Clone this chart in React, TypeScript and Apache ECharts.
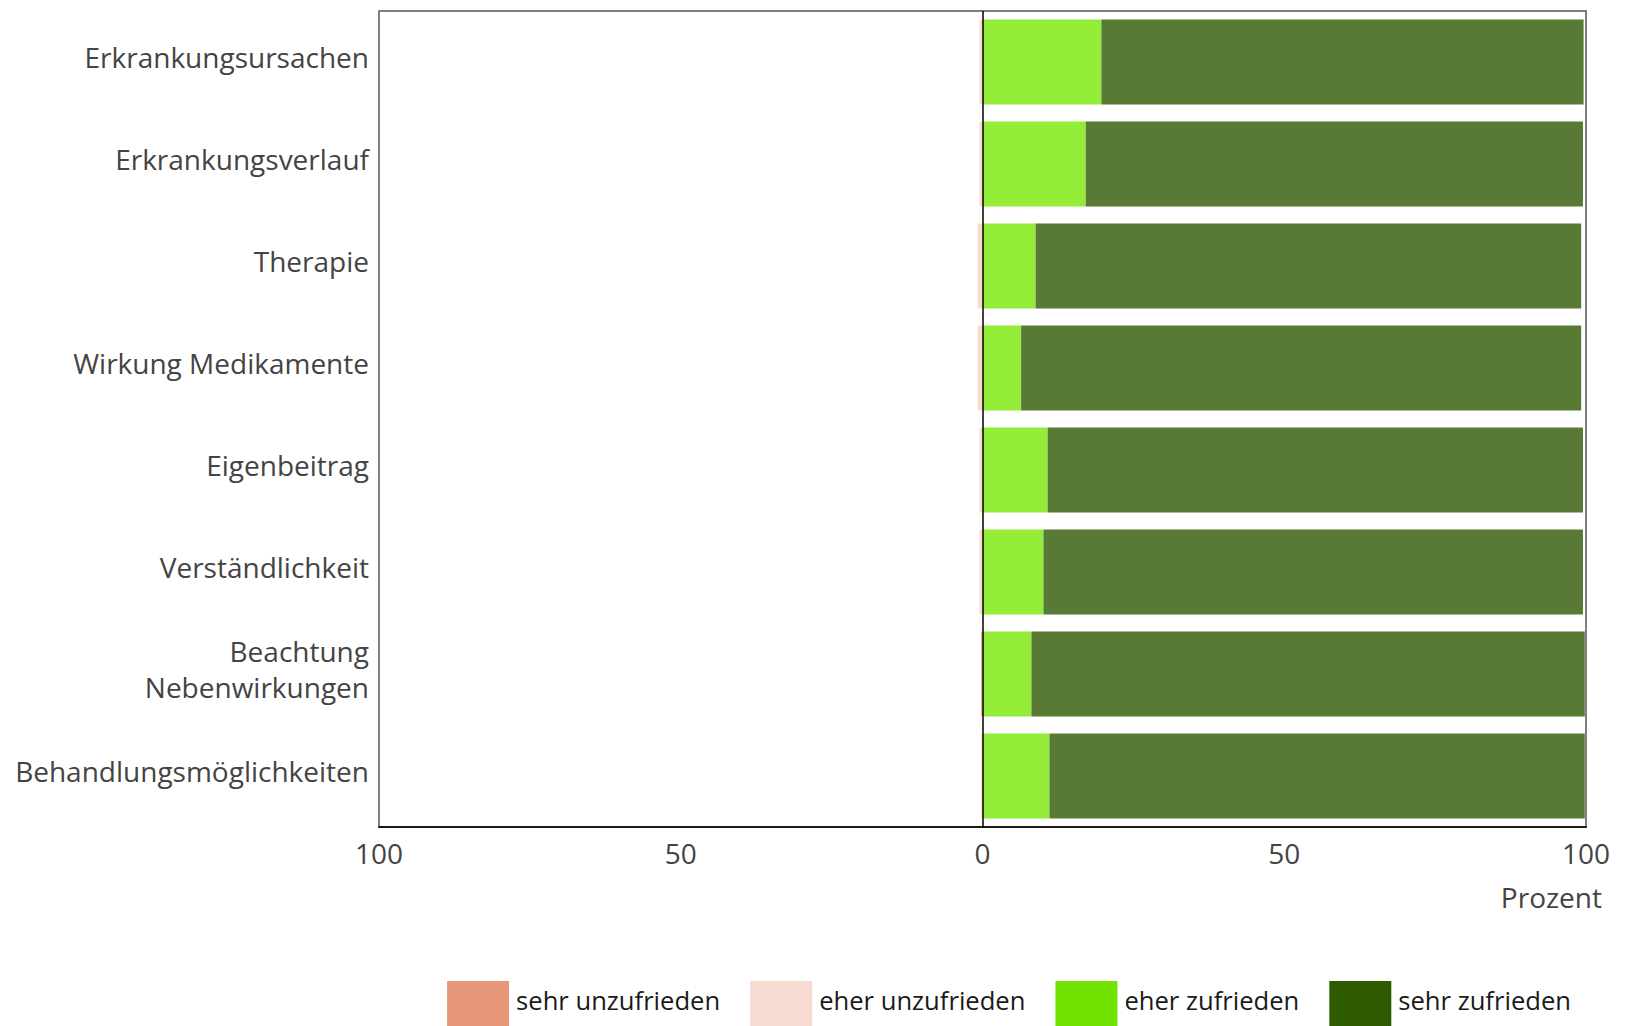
import React, { useEffect, useRef } from "react";
import * as echarts from "echarts";

const categories = [
  "Erkrankungsursachen",
  "Erkrankungsverlauf",
  "Therapie",
  "Wirkung Medikamente",
  "Eigenbeitrag",
  "Verständlichkeit",
  "Beachtung\nNebenwirkungen",
  "Behandlungsmöglichkeiten",
];

const seriesNames = ["sehr unzufrieden", "eher unzufrieden", "eher zufrieden", "sehr zufrieden"];

const sehrUnzufrieden = [0, 0, 0, 0, 0, 0, 0.2, 0];
const eherUnzufrieden = [0.5, 0.5, 0.8, 0.8, 0.5, 0.5, 0, 0.2];
const eherZufrieden = [19.7, 17.1, 8.8, 6.4, 10.8, 10.1, 8.1, 11.1];
const sehrZufrieden = [79.9, 82.4, 90.4, 92.8, 88.7, 89.4, 91.7, 88.7];

const xTicks = [-100, -50, 0, 50, 100];

const barColors = ["#E9957A", "#F7DBD1", "#92EC38", "#587A34"];
const legendColors = ["#E8967A", "#F7DAD0", "#70E300", "#2F5B00"];

export default function App() {
  const ref = useRef<HTMLDivElement>(null);

  useEffect(() => {
    document.body.style.margin = "0";
    if (!ref.current) return;
    const chart = echarts.init(ref.current, undefined, { renderer: "svg" });
    const font = "'Open Sans', 'Noto Sans', sans-serif";
    const mk = (name: string, data: number[], color: string, neg: boolean, extra: any = {}) => ({
      name,
      type: "bar",
      stack: "total",
      barWidth: 85,
      data: data.map((v) => (neg ? -v : v)),
      itemStyle: { color },
      emphasis: { disabled: true },
      ...extra,
    });
    chart.setOption({
      animation: false,
      textStyle: { fontFamily: font },
      grid: { left: 379, right: 39, top: 11, bottom: 199, show: true, borderColor: "#555", borderWidth: 1.5, backgroundColor: "transparent" },
      legend: {
        data: seriesNames.map((n, i) => ({ name: n, itemStyle: { color: legendColors[i] } })),
        right: 49,
        top: 976,
        itemWidth: 62,
        itemHeight: 50,
        itemGap: 30,
        icon: "rect",
        selectedMode: false,
        formatter: "{a|{name}}",
        textStyle: {
          fontSize: 25.6,
          color: "#1a1a1a",
          fontFamily: font,
          padding: [0, 0, 0, 2],
          rich: { a: { fontSize: 25.6, color: "#1a1a1a", fontFamily: font, padding: [0, 0, 12, 0] } },
        },
      },
      xAxis: {
        type: "value",
        min: -100,
        max: 100,
        interval: 50,
        axisLine: { show: true, onZero: false, lineStyle: { color: "#1a1a1a", width: 2 } },
        axisTick: { show: false },
        splitLine: { show: false },
        axisLabel: {
          fontSize: 28,
          color: "#444",
          margin: 12,
          fontFamily: font,
          customValues: xTicks,
          formatter: (v: number) => String(Math.abs(v)),
        },
      },
      yAxis: {
        type: "category",
        data: categories,
        inverse: true,
        axisLine: { show: false },
        axisTick: { show: false },
        splitLine: { show: false },
        axisLabel: {
          margin: 10,
          formatter: (v: string) => "{a|" + v.split("\n").join("}\n{a|") + "}",
          rich: {
            a: { fontSize: 28, color: "#444", lineHeight: 36, fontFamily: font, align: "right" },
          },
          padding: [0, 0, 10, 0],
        },
      },
      graphic: [
        {
          type: "text",
          x: 1602,
          y: 897,
          style: { text: "Prozent", fill: "#444", font: "28px 'Open Sans', sans-serif", textAlign: "right", textVerticalAlign: "middle" },
        },
      ],
      series: [
        mk(seriesNames[1], eherUnzufrieden, barColors[1], true),
        mk(seriesNames[0], sehrUnzufrieden, barColors[0], true),
        mk(seriesNames[2], eherZufrieden, barColors[2], false, {
          markLine: {
            silent: true,
            symbol: "none",
            label: { show: false },
            lineStyle: { color: "#000", width: 1.5, type: "solid" },
            data: [{ xAxis: 0 }],
          },
        }),
        mk(seriesNames[3], sehrZufrieden, barColors[3], false),
      ],
    });
    return () => chart.dispose();
  }, []);

  return <div ref={ref} style={{ width: 1625, height: 1026 }} />;
}
